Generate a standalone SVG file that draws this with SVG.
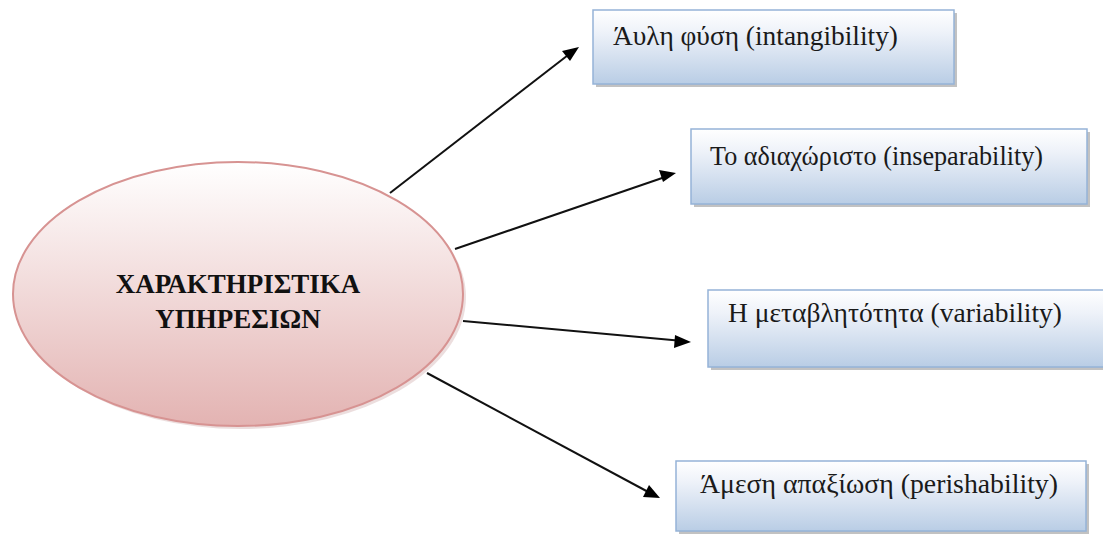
<svg xmlns="http://www.w3.org/2000/svg" width="1103" height="536" viewBox="0 0 1103 536">
<style>
.box{fill:url(#bg);stroke:#95b3d7;stroke-width:1.5}
.sh{fill:#9a9a9a;opacity:0.6}
text{font-family:"Liberation Serif","Times New Roman","DejaVu Serif",serif}
.lbl{font-size:27px;fill:#1a1a1a}
.title{font-size:27px;font-weight:bold;fill:#111;text-anchor:middle}
.conn{stroke:#111;stroke-width:2;fill:none}
.head{fill:#000}
</style>
<defs>
<linearGradient id="bg" x1="0" y1="0" x2="0" y2="1">
<stop offset="0" stop-color="#ffffff"/>
<stop offset="0.3" stop-color="#eef2f9"/>
<stop offset="1" stop-color="#b9cde5"/>
</linearGradient>
<linearGradient id="eg" x1="0" y1="0" x2="0" y2="1">
<stop offset="0" stop-color="#ffffff"/>
<stop offset="1" stop-color="#e3b3b2"/>
</linearGradient>
</defs>
<rect width="1103" height="536" fill="#fff"/>
<g id="connectors">
<line class="conn" x1="390" y1="193" x2="572" y2="52"/>
<path class="head" d="M579,47 L562,51 L570,61 z"/>
<line class="conn" x1="455" y1="249" x2="668" y2="176"/>
<path class="head" d="M676,173 L659,170 L663,182 z"/>
<line class="conn" x1="463" y1="321" x2="683" y2="341"/>
<path class="head" d="M691,342 L675,335 L674,348 z"/>
<line class="conn" x1="427" y1="373" x2="652" y2="494"/>
<path class="head" d="M660,498 L649,485 L643,497 z"/>
</g>
<g id="center">
<ellipse cx="241" cy="297" rx="225" ry="132" fill="#c9a0a0" opacity="0.35"/>
<ellipse cx="238" cy="294" rx="225" ry="132" fill="url(#eg)" stroke="#d79392" stroke-width="2"/>
<text class="title" x="238" y="293">ΧΑΡΑΚΤΗΡΙΣΤΙΚΑ</text>
<text class="title" x="238" y="328">ΥΠΗΡΕΣΙΩΝ</text>
</g>
<g id="n1">
<rect class="sh" x="596" y="13" width="361" height="74"/>
<rect class="box" x="593" y="10" width="361" height="74"/>
<text class="lbl" x="613" y="45" textLength="285" lengthAdjust="spacingAndGlyphs">Άυλη φύση (intangibility)</text>
</g>
<g id="n2">
<rect class="sh" x="694" y="132" width="396" height="75"/>
<rect class="box" x="691" y="129" width="396" height="75"/>
<text class="lbl" x="710" y="165" textLength="333" lengthAdjust="spacingAndGlyphs">Το αδιαχώριστο (inseparability)</text>
</g>
<g id="n3">
<rect class="sh" x="711" y="293" width="400" height="77"/>
<rect class="box" x="708" y="290" width="400" height="77"/>
<text class="lbl" x="728" y="322" textLength="334" lengthAdjust="spacingAndGlyphs">Η μεταβλητότητα (variability)</text>
</g>
<g id="n4">
<rect class="sh" x="679" y="464" width="410" height="70"/>
<rect class="box" x="676" y="461" width="410" height="70"/>
<text class="lbl" x="700" y="493" textLength="358" lengthAdjust="spacingAndGlyphs">Άμεση απαξίωση (perishability)</text>
</g>
</svg>
